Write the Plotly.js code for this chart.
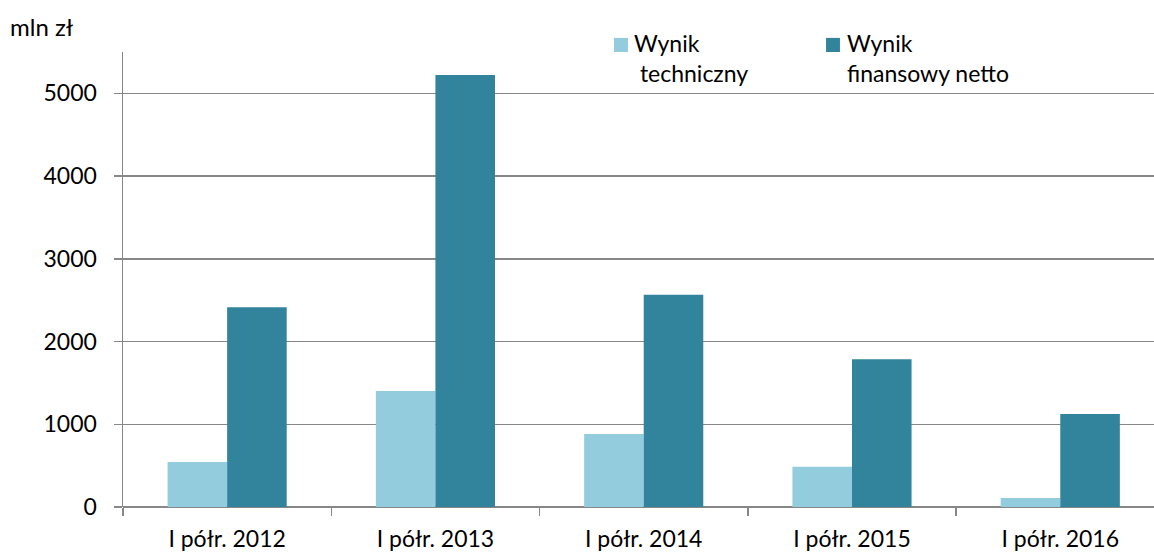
<!DOCTYPE html>
<html>
<head>
<meta charset="utf-8">
<script src="https://cdn.plot.ly/plotly-3.0.1.min.js"></script>
<style>
html,body{margin:0;padding:0;background:#fff;overflow:hidden;}
#chart{width:1154px;height:553px;}
</style>
</head>
<body>
<div id="chart"></div>
<script>
const categories = ["I półr. 2012", "I półr. 2013", "I półr. 2014", "I półr. 2015", "I półr. 2016"];
const wynikTechniczny = [543, 1403, 881, 486, 109];
const wynikFinansowyNetto = [2416, 5223, 2565, 1785, 1125];
const seriesNames = ["Wynik<br> techniczny", "Wynik<br>finansowy netto"];
const yTicks = [0, 1000, 2000, 3000, 4000, 5000];
const unitLabel = "mln zł";

const colTech = "#93CDDD";
const colNet = "#31849B";
const gridCol = "#878787";
const font = "Lato, 'Open Sans', sans-serif";

const traces = [
  {type: "bar", x: categories, y: wynikTechniczny, name: seriesNames[0],
   marker: {color: colTech}, hoverinfo: "x+y"},
  {type: "bar", x: categories, y: wynikFinansowyNetto, name: seriesNames[1],
   marker: {color: colNet}, hoverinfo: "x+y"}
];

const layout = {
  width: 1154, height: 553,
  margin: {l: 123, r: 0, t: 52, b: 46},
  paper_bgcolor: "#fff", plot_bgcolor: "#fff",
  barmode: "group", bargap: 0.428, bargroupgap: 0,
  showlegend: false,
  font: {family: font, size: 23, color: "#000"},
  xaxis: {
    type: "category", range: [-0.5, 4.45],
    tickson: "boundaries", ticks: "outside", ticklen: 8, tickwidth: 1.5, tickcolor: gridCol,
    showline: false, showgrid: false, zeroline: false,
    ticklabelstandoff: 16,
    tickfont: {family: font, size: 23, color: "#000"}
  },
  yaxis: {
    range: [0, 5500], tickvals: yTicks, ticktext: yTicks.map(String),
    ticks: "outside", ticklen: 8, tickwidth: 1.5, tickcolor: gridCol,
    showline: true, linecolor: gridCol, linewidth: 1.5,
    showgrid: true, gridcolor: gridCol, gridwidth: 1.5,
    zeroline: true, zerolinecolor: gridCol, zerolinewidth: 1.5,
    ticklabelstandoff: 12,
    tickfont: {family: font, size: 23, color: "#000"}
  },
  shapes: [
    {type: "rect", xref: "paper", yref: "paper", x0: 0.4762, x1: 0.4898, y0: 1.0, y1: 1.031,
     fillcolor: colTech, line: {width: 0}},
    {type: "rect", xref: "paper", yref: "paper", x0: 0.6819, x1: 0.6954, y0: 1.0, y1: 1.031,
     fillcolor: colNet, line: {width: 0}}
  ],
  annotations: [
    {text: unitLabel, xref: "paper", yref: "paper", x: -0.112, y: 1.055, xanchor: "left", yanchor: "middle",
     showarrow: false, font: {family: font, size: 24, color: "#000"}},
    {text: seriesNames[0], xref: "paper", yref: "paper", x: 0.4935, y: 0.987, xanchor: "left", yanchor: "middle",
     align: "left", showarrow: false, font: {family: font, size: 23, color: "#000"}},
    {text: seriesNames[1], xref: "paper", yref: "paper", x: 0.7003, y: 0.987, xanchor: "left", yanchor: "middle",
     align: "left", showarrow: false, font: {family: font, size: 23, color: "#000"}}
  ]
};

Plotly.newPlot("chart", traces, layout, {displayModeBar: false, staticPlot: true});
</script>
</body>
</html>
